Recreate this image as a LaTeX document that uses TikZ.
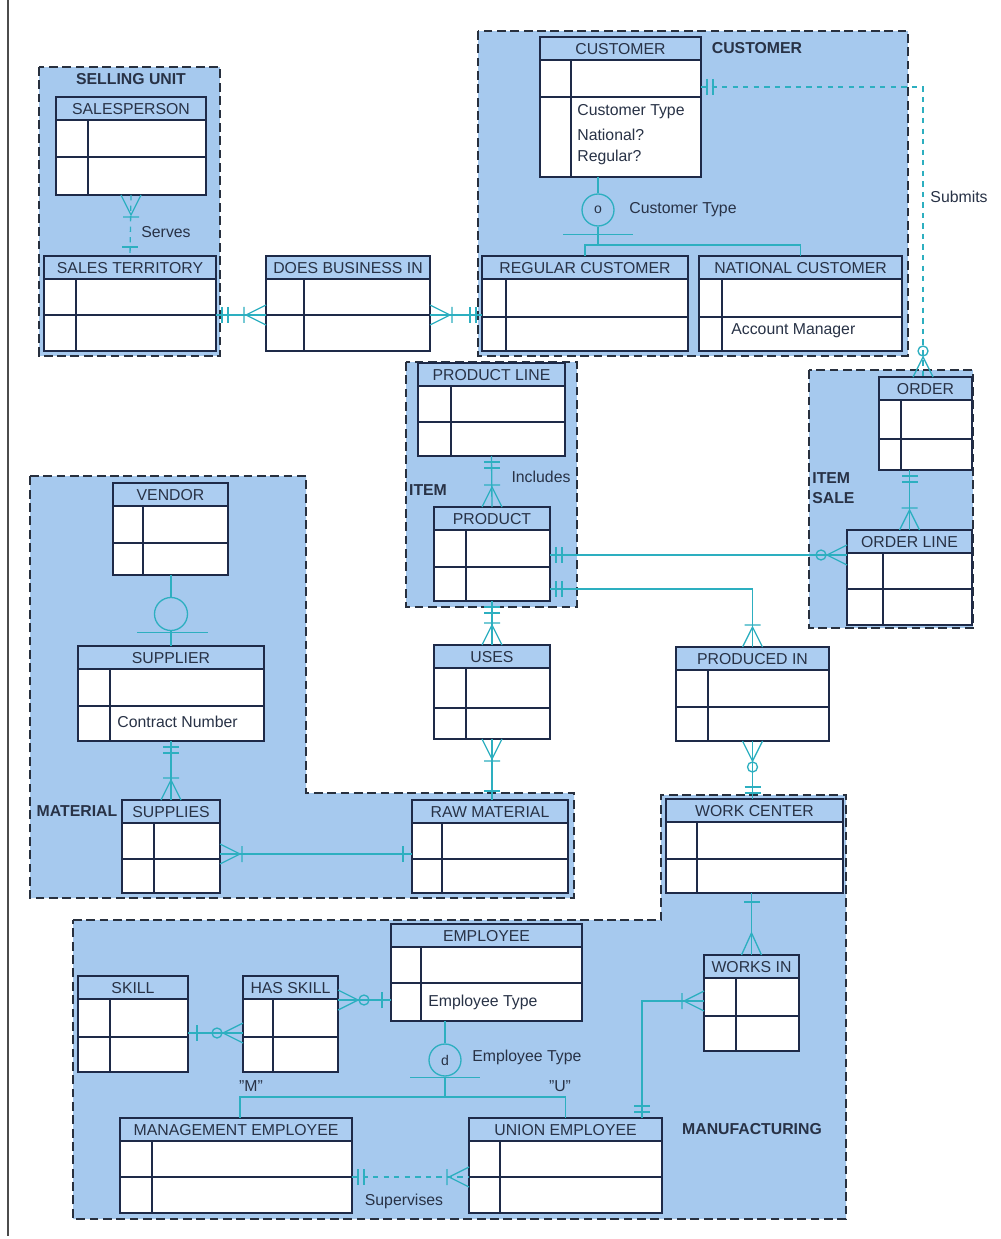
\documentclass[tikz,border=0pt]{standalone}
\usepackage{fontspec}
\setmainfont{Liberation Sans}
\usetikzlibrary{fit,calc}

\definecolor{grpfill}{RGB}{166,201,238}
\definecolor{hdrfill}{RGB}{172,205,241}
\definecolor{entcol}{RGB}{30,42,72}
\definecolor{conncol}{RGB}{45,175,192}
\definecolor{grpline}{RGB}{40,48,62}
\definecolor{txtcol}{RGB}{40,50,70}

\tikzset{
  entbox/.style={inner sep=0pt, outer sep=0pt, fill=white},
  entline/.style={draw=entcol, line width=0.9pt},
  enttitle/.style={font=\fontsize{9}{10}\selectfont, text=txtcol, inner sep=0pt},
  attr/.style={font=\fontsize{9}{11}\selectfont, text=txtcol, anchor=west, inner sep=0pt},
  grp/.style={fill=grpfill, draw=grpline, line width=1.1pt, dash pattern=on 5pt off 2.6pt},
  grplabel/.style={font=\bfseries\fontsize{9}{11}\selectfont, text=txtcol, inner sep=0pt},
  conn/.style={draw=conncol, line width=0.75pt},
  lbl/.style={font=\fontsize{9}{11}\selectfont, text=txtcol, inner sep=0pt},
  subcirc/.style={circle, draw=conncol, line width=0.75pt, minimum size=0.64cm, inner sep=0pt, font=\fontsize{8}{9}\selectfont, text=txtcol},
  pics/one/.style={code={\draw[conn] (9,-8) -- (9,8);}},
  pics/oneone/.style={code={\draw[conn] (6,-8) -- (6,8) (12,-8) -- (12,8);}},
  pics/many/.style={code={\draw[conn] (0,-10) -- (22,0) -- (0,10);}},
  pics/manyone/.style={code={\draw[conn] (0,-10) -- (20,0) -- (0,10) (22,-8) -- (22,8);}},
  pics/manyzero/.style={code={\draw[conn] (0,-10) -- (20,0) -- (0,10); \draw[conn] (26,0) circle[radius=0.1cm];}}
}

\newcommand{\entity}[8]{%
  \node[entbox, fit={(#2,#3) (#4,#5)}] (#1) {};
  \fill[hdrfill] (#2,#3) rectangle (#4,#3+23);
  \coordinate (#1-row) at (#2,#6);
  \draw[entline] (#2,#3+23) -- (#4,#3+23) (#2,#6) -- (#4,#6) (#7,#3+23) -- (#7,#5);
  \node[enttitle] (#1-t) at ({(#2+#4)/2},#3+12) {#8};
  \draw[entline] (#1.north west) rectangle (#1.south east);
}

\begin{document}
\begin{tikzpicture}[x=0.02cm, y=-0.02cm]
\useasboundingbox (0,0) rectangle (1000,1239);
\fill[white] (0,0) rectangle (1000,1239);
\draw[gray!60!black, line width=1pt] (8,0) -- (8,1236);

\draw[grp] (39,67) rectangle (220,356);
\draw[grp] (478,31) rectangle (908,356);
\draw[grp] (406,362) rectangle (577,607);
\draw[grp] (809,370) rectangle (973,628);
\draw[grp] (30,476) -- (306,476) -- (306,793) -- (574,793) -- (574,898) -- (30,898) -- cycle;
\draw[grp] (73,920) -- (661,920) -- (661,795) -- (846,795) -- (846,1219) -- (73,1219) -- cycle;

\node[grplabel] (gsell) at (131,79) {SELLING UNIT};
\node[grplabel] (gcust) at (757,48) {CUSTOMER};
\node[grplabel] (gitem) at (428,490) {ITEM};
\node[grplabel, align=left, anchor=west] (gsale) at (812,488) {ITEM\\SALE};
\node[grplabel] (gmat) at (77,811) {MATERIAL};
\node[grplabel] (gman) at (752,1129) {MANUFACTURING};

\entity{salesp}{56}{97}{206}{195}{157}{88}{SALESPERSON}
\entity{salester}{44}{256}{216}{351}{315}{76}{SALES TERRITORY}
\entity{dbi}{266}{256}{430}{351}{315}{304}{DOES BUSINESS IN}
\entity{cust}{540}{37}{701}{177}{97}{571}{CUSTOMER}
\entity{regcust}{482}{256}{688}{351}{317}{506}{REGULAR CUSTOMER}
\entity{natcust}{699}{256}{902}{351}{317}{722}{NATIONAL CUSTOMER}
\entity{prodline}{418}{363}{565}{456}{422}{451}{PRODUCT LINE}
\entity{product}{434}{507}{550}{601}{567}{466}{PRODUCT}
\entity{order}{879}{377}{972}{470}{439}{901}{ORDER}
\entity{orderline}{847}{530}{972}{625}{589}{883}{ORDER LINE}
\entity{vendor}{113}{483}{228}{575}{543}{143}{VENDOR}
\entity{supplier}{78}{646}{264}{741}{706}{110}{SUPPLIER}
\entity{supplies}{122}{800}{220}{893}{859}{154}{SUPPLIES}
\entity{uses}{434}{645}{550}{739}{708}{466}{USES}
\entity{rawmat}{412}{800}{568}{893}{859}{442}{RAW MATERIAL}
\entity{produced}{676}{647}{829}{741}{707}{708}{PRODUCED IN}
\entity{workc}{666}{799}{843}{893}{859}{697}{WORK CENTER}
\entity{employee}{391}{924}{582}{1021}{983}{421}{EMPLOYEE}
\entity{skill}{78}{976}{188}{1072}{1037}{110}{SKILL}
\entity{hasskill}{243}{976}{338}{1072}{1037}{273}{HAS SKILL}
\entity{worksin}{704}{955}{799}{1051}{1016}{736}{WORKS IN}
\entity{mgmt}{120}{1118}{352}{1213}{1177}{152}{MANAGEMENT EMPLOYEE}
\entity{unionemp}{469}{1118}{662}{1213}{1177}{500}{UNION EMPLOYEE}

\node[attr] (ctxt1) at (577,112) {Customer Type};
\node[attr] (ctxt2) at (577,135) {National?};
\node[attr] (ctxt3) at (577,157) {Regular?};
\node[attr] (acct) at (731,331) {Account Manager};
\node[attr] (contract) at (117,722) {Contract Number};
\node[attr] (etxt) at (428,1002) {Employee Type};

\draw[conn, dashed] (salesp.south) -- (salester.north);
\pic[rotate=270] at (salesp.south) {manyone};
\pic[rotate=90] at (salester.north) {one};
\node[lbl] (serves) at (166,232) {Serves};

\draw[conn] (salester.east |- dbi-row) -- (dbi-row);
\pic at (salester.east |- dbi-row) {oneone};
\pic[rotate=180] at (dbi-row) {manyone};
\draw[conn] (dbi.east |- dbi-row) -- (regcust.west |- dbi-row);
\pic at (dbi.east |- dbi-row) {manyone};
\pic[rotate=180] at (regcust.west |- dbi-row) {oneone};

\coordinate (subturn) at (923,87);
\draw[conn, dashed] (cust.east |- subturn) -- (subturn) -- (subturn |- order.north);
\pic at (cust.east |- subturn) {oneone};
\pic[rotate=90] at (subturn |- order.north) {manyzero};
\node[lbl] (submits) at (959,197) {Submits};

\node[subcirc] (ctype) at (598,210) {o};
\node[lbl, anchor=west] (ctypelbl) at (629,210) {Customer Type};
\coordinate (ctjoin) at (598,245);
\draw[conn] (ctype.north |- cust.south) -- (ctype.north);
\draw[conn] (ctype.south) -- (ctjoin);
\draw[conn] (ctype.south) ++(-35,8) -- ++(70,0);
\draw[conn] (regcust.north) -- (regcust.north |- ctjoin) -- (natcust.north |- ctjoin) -- (natcust.north);

\draw[conn] (prodline.south) -- (product.north);
\pic[rotate=270] at (prodline.south) {oneone};
\pic[rotate=90] at (product.north) {manyone};
\node[lbl] (includes) at (541,477) {Includes};

\draw[conn] (order.south -| orderline.north) -- (orderline.north);
\pic[rotate=270] at (order.south -| orderline.north) {oneone};
\pic[rotate=90] at (orderline.north) {manyone};

\coordinate (pol) at (700,555);
\draw[conn] (product.east |- pol) -- (orderline.west |- pol);
\pic at (product.east |- pol) {oneone};
\pic[rotate=180] at (orderline.west |- pol) {manyzero};

\coordinate (ppi) at (700,589);
\draw[conn] (product.east |- ppi) -| (produced.north);
\pic at (product.east |- ppi) {oneone};
\pic[rotate=90] at (produced.north) {manyone};

\draw[conn] (product.south) -- (uses.north);
\pic[rotate=270] at (product.south) {oneone};
\pic[rotate=90] at (uses.north) {manyone};

\draw[conn] (uses.south) -- (rawmat.north -| uses.south);
\pic[rotate=270] at (uses.south) {manyone};
\pic[rotate=90] at (rawmat.north -| uses.south) {one};

\draw[conn] (produced.south) -- (workc.north -| produced.south);
\pic[rotate=270] at (produced.south) {manyzero};
\pic[rotate=90] at (workc.north -| produced.south) {oneone};

\node[subcirc, minimum size=0.66cm] (vcirc) at (171,614) {};
\draw[conn] (vendor.south -| vcirc) -- (vcirc.north);
\draw[conn] (vcirc.south) -- (supplier.north -| vcirc);
\draw[conn] (vcirc.south) ++(-34,1) -- ++(71,0);

\draw[conn] (supplier.south) -- (supplies.north -| supplier.south);
\pic[rotate=270] at (supplier.south) {oneone};
\pic[rotate=90] at (supplies.north -| supplier.south) {manyone};

\coordinate (srm) at (300,854);
\draw[conn] (supplies.east |- srm) -- (rawmat.west |- srm);
\pic at (supplies.east |- srm) {manyone};
\pic[rotate=180] at (rawmat.west |- srm) {one};

\draw[conn] (workc.south -| worksin.north) -- (worksin.north);
\pic[rotate=270] at (workc.south -| worksin.north) {one};
\pic[rotate=90] at (worksin.north) {many};

\coordinate (uew) at (642,1001);
\draw[conn] (unionemp.north -| uew) -- (uew) -- (worksin.west |- uew);
\pic[rotate=90] at (unionemp.north -| uew) {oneone};
\pic[rotate=180] at (worksin.west |- uew) {manyone};

\coordinate (shs) at (215,1033);
\draw[conn] (skill.east |- shs) -- (hasskill.west |- shs);
\pic at (skill.east |- shs) {one};
\pic[rotate=180] at (hasskill.west |- shs) {manyzero};

\coordinate (hse) at (360,1000);
\draw[conn] (hasskill.east |- hse) -- (employee.west |- hse);
\pic at (hasskill.east |- hse) {manyzero};
\pic[rotate=180] at (employee.west |- hse) {one};

\node[subcirc] (etype) at (445,1060) {d};
\node[lbl, anchor=west] (etypelbl) at (472,1057) {Employee Type};
\coordinate (ejoin) at (445,1097);
\draw[conn] (etype.north |- employee.south) -- (etype.north);
\draw[conn] (etype.south) -- (ejoin);
\draw[conn] (etype.south) ++(-35,1) -- ++(70,0);
\draw[conn] (mgmt.north -| 240,0) -- (ejoin -| 240,0) -- (unionemp.north |- ejoin) -- (unionemp.north);
\node[lbl] (mlbl) at (251,1086) {"M"};
\node[lbl] (ulbl) at (560,1086) {"U"};

\draw[conn, dashed] (mgmt.east |- mgmt-row) -- (unionemp.west |- mgmt-row);
\pic at (mgmt.east |- mgmt-row) {oneone};
\pic[rotate=180] at (unionemp.west |- mgmt-row) {manyone};
\node[lbl] (supervises) at (404,1201) {Supervises};
\end{tikzpicture}
\end{document}
